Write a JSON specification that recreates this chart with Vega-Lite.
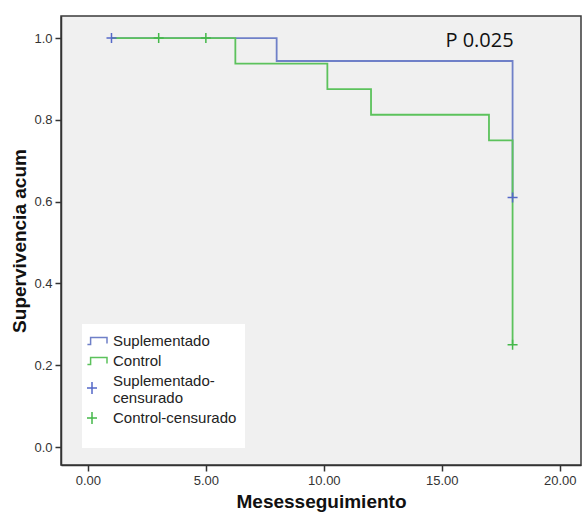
{
  "$schema": "https://vega.github.io/schema/vega-lite/v6.json",
  "width": 520,
  "height": 449,
  "autosize": "none",
  "padding": {"left": 61, "top": 16, "right": 3, "bottom": 57},
  "background": "white",
  "config": {
    "view": {"fill": "#f0f0f0", "stroke": "#3a3a3a", "strokeWidth": 1.5},
    "font": "Liberation Sans",
    "axis": {
      "domainColor": "#333333", "domainWidth": 1.5,
      "tickColor": "#333333", "tickWidth": 1.5, "tickSize": 6,
      "labelColor": "#333333", "labelFontSize": 13, "labelFont": "Liberation Sans",
      "titleFont": "Liberation Sans", "titleFontSize": 19, "titleFontWeight": "bold", "titleColor": "#111111",
      "grid": false
    }
  },
  "datasets": {
    "curves": [
      {"series": "Suplementado", "t": 1, "s": 1.0},
      {"series": "Suplementado", "t": 8, "s": 0.944},
      {"series": "Suplementado", "t": 18, "s": 0.61},
      {"series": "Control", "t": 1, "s": 1.0},
      {"series": "Control", "t": 6.25, "s": 0.9375},
      {"series": "Control", "t": 10.15, "s": 0.875},
      {"series": "Control", "t": 12.0, "s": 0.8125},
      {"series": "Control", "t": 17.0, "s": 0.75},
      {"series": "Control", "t": 18.0, "s": 0.25}
    ],
    "censored": [
      {"series": "Suplementado-censurado", "t": 1, "s": 1.0},
      {"series": "Control-censurado", "t": 3, "s": 1.0},
      {"series": "Control-censurado", "t": 5, "s": 1.0},
      {"series": "Suplementado-censurado", "t": 18, "s": 0.61},
      {"series": "Control-censurado", "t": 18, "s": 0.25}
    ],
    "note": [
      {"t": 16.6, "s": 0.993, "label": "P 0.025"}
    ]
  },
  "layer": [
    {
      "data": {"name": "curves"},
      "mark": {"type": "line", "interpolate": "step-after", "strokeWidth": 1.8},
      "encoding": {
        "x": {"field": "t", "type": "quantitative",
              "scale": {"domain": [-1.14, 20.9], "nice": false, "zero": false},
              "axis": {"values": [0, 5, 10, 15, 20], "format": ".2f", "title": "Mesesseguimiento", "titlePadding": 5, "labelPadding": 3}},
        "y": {"field": "s", "type": "quantitative",
              "scale": {"domain": [-0.044, 1.054], "nice": false, "zero": false},
              "axis": {"values": [0, 0.2, 0.4, 0.6, 0.8, 1.0], "format": ".1f", "title": "Supervivencia acum", "titlePadding": 4, "labelPadding": 3}},
        "color": {"field": "series", "type": "nominal",
                  "scale": {"domain": ["Suplementado", "Control", "Suplementado-censurado", "Control-censurado"],
                            "range": ["#6f80c8", "#5cc25c", "#5468c8", "#44b84a"]}},
        "order": {"field": "t", "type": "quantitative"}
      }
    },
    {
      "data": {"name": "censored"},
      "mark": {"type": "point", "filled": false, "size": 100, "strokeWidth": 1.5, "opacity": 1,
               "shape": "M -1 0 L 1 0 M 0 -1 L 0 1"},
      "encoding": {
        "x": {"field": "t", "type": "quantitative"},
        "y": {"field": "s", "type": "quantitative"},
        "color": {"field": "series", "type": "nominal"}
      }
    },
    {
      "data": {"name": "censored"},
      "transform": [{"filter": "false"}],
      "mark": {"type": "point", "filled": false, "size": 256, "strokeWidth": 1.5, "opacity": 1},
      "encoding": {
        "x": {"field": "t", "type": "quantitative"},
        "y": {"field": "s", "type": "quantitative"},
        "color": {"field": "series", "type": "nominal",
                  "legend": {
                    "title": " ", "titleOrient": "bottom", "titleFontSize": 11, "titlePadding": 2,
                    "orient": "none", "legendX": 21, "legendY": 308,
                    "fillColor": "white", "padding": 8,
                    "labelFont": "Liberation Sans", "labelFontSize": 15, "labelColor": "#222222",
                    "symbolSize": 256, "symbolStrokeWidth": 1.5, "rowPadding": 3, "labelOffset": 5,
                    "labelExpr": "datum.label == 'Suplementado-censurado' ? ['Suplementado-', 'censurado'] : datum.label"
                  }},
        "shape": {"field": "series", "type": "nominal",
                  "scale": {"domain": ["Suplementado", "Control", "Suplementado-censurado", "Control-censurado"],
                            "range": ["M -1.45 0.45 L -1.05 0.45 L -1.05 -0.45 L 1.0 -0.45 L 1.0 0.3", "M -1.45 0.45 L -1.05 0.45 L -1.05 -0.45 L 1.0 -0.45 L 1.0 0.3", "M -1.5 0.875 L -0.25 0.875 M -0.875 0.125 L -0.875 1.625", "M -1.5 0 L -0.25 0 M -0.875 -0.75 L -0.875 0.75"]}}
      }
    },
    {
      "data": {"name": "note"},
      "mark": {"type": "text", "font": "Open Sans", "fontSize": 20, "color": "#111111", "align": "center", "baseline": "middle"},
      "encoding": {
        "x": {"field": "t", "type": "quantitative"},
        "y": {"field": "s", "type": "quantitative"},
        "text": {"field": "label"}
      }
    }
  ]
}
